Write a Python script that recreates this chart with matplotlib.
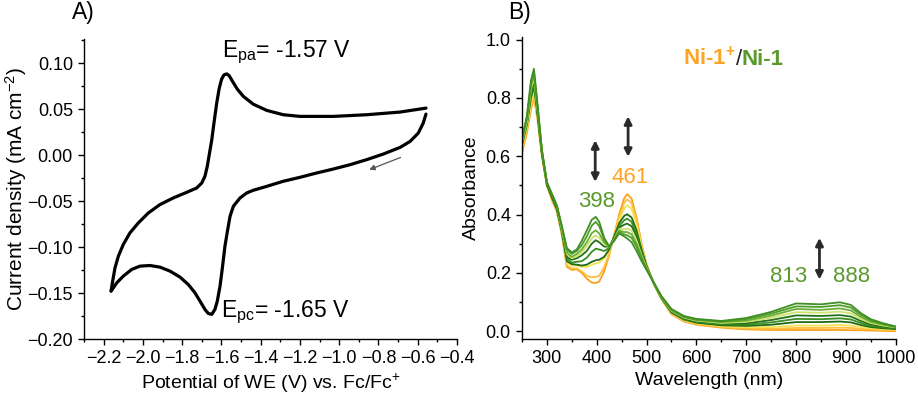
import matplotlib
matplotlib.use("Agg")
import matplotlib.pyplot as plt
from matplotlib.ticker import MultipleLocator, FuncFormatter

plt.rcParams['font.family'] = ['Liberation Sans', 'DejaVu Sans']
plt.rcParams['mathtext.fontset'] = 'custom'
plt.rcParams['mathtext.rm'] = 'Liberation Sans'
plt.rcParams['mathtext.it'] = 'Liberation Sans:italic'
plt.rcParams['mathtext.bf'] = 'Liberation Sans:bold'

# ---- A) cyclic voltammogram (read off the picture) ----
# cathodic sweep, -0.56 V -> -2.16 V
cv_fwd_v = [-0.558, -0.572, -0.597, -0.639, -0.690, -0.775, -0.860, -0.945, -1.030, -1.115,
            -1.200, -1.285, -1.369, -1.403, -1.438, -1.471, -1.505, -1.539, -1.556, -1.568,
            -1.582, -1.594, -1.607, -1.621, -1.633, -1.649, -1.667, -1.684, -1.709, -1.735,
            -1.769, -1.811, -1.862, -1.913, -1.964, -2.015, -2.057, -2.100, -2.133, -2.162]
cv_fwd_j = [0.0447, 0.0349, 0.0241, 0.0150, 0.0085, 0.0013, -0.0048, -0.0103, -0.0150, -0.0193,
            -0.0240, -0.0283, -0.0338, -0.0359, -0.0381, -0.0410, -0.0464, -0.0554, -0.0663, -0.0808,
            -0.0988, -0.1205, -0.1422, -0.1585, -0.1675, -0.1729, -0.1719, -0.1675, -0.1585, -0.1494,
            -0.1404, -0.1324, -0.1259, -0.1216, -0.1198, -0.1205, -0.1241, -0.1314, -0.1386, -0.1476]
# anodic sweep back, -2.16 V -> -0.56 V
cv_rev_v = [-2.162, -2.154, -2.142, -2.125, -2.100, -2.066, -2.023, -1.972, -1.913, -1.845,
            -1.777, -1.726, -1.700, -1.684, -1.672, -1.662, -1.649, -1.638, -1.624, -1.611,
            -1.599, -1.587, -1.573, -1.560, -1.543, -1.519, -1.488, -1.438, -1.369, -1.285,
            -1.200, -1.030, -0.860, -0.690, -0.558]
cv_rev_j = [-0.1476, -0.1368, -0.1223, -0.1097, -0.0970, -0.0844, -0.0735, -0.0627, -0.0536, -0.0464,
            -0.0403, -0.0356, -0.0301, -0.0229, -0.0121, 0.0006, 0.0169, 0.0349, 0.0566, 0.0729,
            0.0826, 0.0873, 0.0884, 0.0863, 0.0801, 0.0718, 0.0639, 0.0555, 0.0487, 0.0440,
            0.0422, 0.0422, 0.0440, 0.0469, 0.0512]

# ---- B) spectroelectrochemistry, Ni-1+ (orange) -> Ni-1 (green) ----
wavelength = [250, 260, 268, 274, 280, 290, 300, 310, 320, 330, 340, 350, 360, 370, 380,
              390, 398, 405, 415, 425, 435, 445, 455, 461, 470, 480, 490, 500, 515, 530,
              550, 575, 600, 650, 700, 750, 800, 850, 888, 910, 930, 950, 975, 1000]

abs_0 = [0.61, 0.68, 0.76, 0.80, 0.74, 0.60, 0.50, 0.45, 0.41, 0.33, 0.22, 0.21, 0.212, 0.20, 0.18,
         0.167, 0.165, 0.17, 0.205, 0.26, 0.33, 0.40, 0.455, 0.470, 0.455, 0.39, 0.30, 0.23, 0.16, 0.11,
         0.058, 0.033, 0.022, 0.012, 0.006, 0.004, 0.004, 0.004, 0.004, 0.003, 0.003, 0.002, 0.001, 0.0]
abs_1 = [0.62, 0.69, 0.77, 0.81, 0.75, 0.60, 0.50, 0.45, 0.41, 0.335, 0.225, 0.215, 0.215, 0.205, 0.19,
         0.185, 0.186, 0.19, 0.22, 0.265, 0.33, 0.39, 0.44, 0.452, 0.44, 0.38, 0.295, 0.228, 0.16, 0.111,
         0.06, 0.035, 0.024, 0.014, 0.009, 0.008, 0.011, 0.011, 0.012, 0.011, 0.008, 0.006, 0.004, 0.003]
abs_2 = [0.63, 0.70, 0.78, 0.82, 0.75, 0.61, 0.50, 0.46, 0.42, 0.34, 0.235, 0.225, 0.225, 0.22, 0.22,
         0.228, 0.232, 0.235, 0.25, 0.275, 0.325, 0.38, 0.42, 0.432, 0.42, 0.365, 0.29, 0.226, 0.161, 0.112,
         0.062, 0.038, 0.027, 0.017, 0.013, 0.014, 0.019, 0.019, 0.021, 0.019, 0.014, 0.01, 0.007, 0.005]
abs_3 = [0.64, 0.71, 0.80, 0.84, 0.76, 0.61, 0.50, 0.46, 0.42, 0.34, 0.24, 0.23, 0.228, 0.225, 0.228,
         0.238, 0.243, 0.245, 0.255, 0.28, 0.325, 0.37, 0.395, 0.401, 0.39, 0.345, 0.28, 0.224, 0.162, 0.113,
         0.064, 0.04, 0.029, 0.02, 0.018, 0.022, 0.031, 0.031, 0.033, 0.03, 0.021, 0.014, 0.01, 0.007]
abs_4 = [0.64, 0.71, 0.81, 0.85, 0.77, 0.61, 0.51, 0.46, 0.42, 0.345, 0.25, 0.235, 0.238, 0.24, 0.252,
         0.272, 0.283, 0.28, 0.275, 0.285, 0.32, 0.36, 0.38, 0.386, 0.375, 0.335, 0.275, 0.222, 0.162, 0.114,
         0.066, 0.042, 0.032, 0.023, 0.022, 0.03, 0.042, 0.041, 0.044, 0.04, 0.028, 0.018, 0.013, 0.009]
abs_5 = [0.65, 0.72, 0.82, 0.86, 0.77, 0.61, 0.51, 0.46, 0.42, 0.35, 0.255, 0.245, 0.25, 0.26, 0.275,
         0.30, 0.312, 0.305, 0.29, 0.29, 0.32, 0.355, 0.365, 0.369, 0.36, 0.325, 0.27, 0.22, 0.163, 0.115,
         0.068, 0.044, 0.034, 0.026, 0.027, 0.038, 0.054, 0.052, 0.055, 0.05, 0.035, 0.023, 0.016, 0.011]
abs_6 = [0.65, 0.72, 0.83, 0.87, 0.78, 0.62, 0.51, 0.47, 0.43, 0.35, 0.265, 0.25, 0.258, 0.27, 0.292,
         0.318, 0.329, 0.32, 0.30, 0.29, 0.315, 0.35, 0.35, 0.352, 0.345, 0.31, 0.26, 0.218, 0.163, 0.116,
         0.07, 0.046, 0.036, 0.028, 0.032, 0.046, 0.065, 0.063, 0.067, 0.061, 0.042, 0.028, 0.019, 0.013]
abs_7 = [0.66, 0.73, 0.84, 0.88, 0.79, 0.62, 0.51, 0.47, 0.43, 0.355, 0.27, 0.255, 0.265, 0.28, 0.305,
         0.336, 0.346, 0.335, 0.305, 0.29, 0.315, 0.345, 0.34, 0.340, 0.332, 0.30, 0.255, 0.215, 0.164, 0.117,
         0.072, 0.048, 0.038, 0.031, 0.036, 0.053, 0.076, 0.073, 0.078, 0.071, 0.049, 0.032, 0.022, 0.014]
abs_8 = [0.66, 0.73, 0.85, 0.89, 0.79, 0.62, 0.51, 0.47, 0.43, 0.36, 0.28, 0.265, 0.275, 0.295, 0.325,
         0.362, 0.375, 0.36, 0.315, 0.29, 0.31, 0.34, 0.332, 0.329, 0.32, 0.29, 0.25, 0.212, 0.165, 0.118,
         0.074, 0.05, 0.04, 0.033, 0.041, 0.06, 0.085, 0.083, 0.089, 0.081, 0.056, 0.037, 0.025, 0.015]
abs_9 = [0.66, 0.74, 0.86, 0.90, 0.80, 0.62, 0.51, 0.47, 0.43, 0.36, 0.285, 0.27, 0.28, 0.31, 0.345,
         0.382, 0.392, 0.375, 0.32, 0.29, 0.31, 0.335, 0.325, 0.318, 0.305, 0.275, 0.24, 0.21, 0.165, 0.12,
         0.076, 0.052, 0.042, 0.035, 0.045, 0.066, 0.095, 0.092, 0.099, 0.09, 0.062, 0.041, 0.027, 0.016]

spectra = [abs_0, abs_1, abs_2, abs_3, abs_4, abs_5, abs_6, abs_7, abs_8, abs_9]
spec_colors = ['#F9A11B', '#FFBE3C', '#F3E254', '#1E6B14', '#3A8E22', '#23721A',
               '#CFE36A', '#6AAE35', '#4F9C2A', '#3F8F24']

ORANGE = '#FCA428'
GREEN = '#5A9A2C'
MINUS = '\u2212'

fig = plt.figure(figsize=(9.18, 3.99), dpi=100)
axA = fig.add_axes([0.0915, 0.1496, 0.4063, 0.7520])
axB = fig.add_axes([0.5686, 0.1496, 0.4071, 0.7584])

for ax in (axA, axB):
    for s in ('top', 'right'):
        ax.spines[s].set_visible(False)
    for s in ('left', 'bottom'):
        ax.spines[s].set_linewidth(1.0)
    ax.tick_params(which='major', direction='out', length=4, width=1, labelsize=13, pad=4)
    ax.tick_params(which='minor', direction='out', length=2.5, width=1)

# ---- panel A ----
axA.plot(cv_fwd_v, cv_fwd_j, color='black', lw=2.3, solid_capstyle='round')
axA.plot(cv_rev_v, cv_rev_j, color='black', lw=2.3, solid_capstyle='round')
axA.annotate('', xy=(-0.847, -0.0157), xytext=(-0.687, -0.0024),
             arrowprops=dict(arrowstyle='-|>', color='#555555', lw=0.9, mutation_scale=8,
                             shrinkA=0, shrinkB=0))
axA.text(-1.599, 0.112, r'E$_{\rm pa}$= -1.57 V', fontsize=16.5, ha='left', va='center')
axA.text(-1.603, -0.171, r'E$_{\rm pc}$= -1.65 V', fontsize=16.5, ha='left', va='center')

axA.set_xlim(-2.3, -0.4)
axA.set_ylim(-0.2, 0.126)
axA.xaxis.set_major_locator(MultipleLocator(0.2))
axA.xaxis.set_minor_locator(MultipleLocator(0.1))
axA.yaxis.set_major_locator(MultipleLocator(0.05))
axA.yaxis.set_minor_locator(MultipleLocator(0.025))
axA.xaxis.set_major_formatter(FuncFormatter(lambda v, p: f'{v:.1f}'.replace('-', MINUS)))
axA.yaxis.set_major_formatter(FuncFormatter(
    lambda v, p: '0.00' if abs(v) < 1e-9 else f'{v:.2f}'.replace('-', MINUS)))
axA.set_xlabel(r'Potential of WE (V) vs. Fc/Fc$^{+}$', fontsize=14, labelpad=3)
axA.set_ylabel(r'Current density (mA cm$^{-2}$)', fontsize=15)
axA.yaxis.set_label_coords(-0.148, 0.5)
fig.text(0.0784, 0.968, 'A)', fontsize=16.5, ha='left', va='center')

# ---- panel B ----
for sp, c in zip(spectra, spec_colors):
    axB.plot(wavelength, sp, color=c, lw=1.3)

arrow_kw = dict(arrowstyle='<|-|>', color='#2a2a2a', lw=2.0, mutation_scale=11,
                shrinkA=0, shrinkB=0)
axB.annotate('', xy=(397, 0.512), xytext=(397, 0.655), arrowprops=arrow_kw)
axB.annotate('', xy=(463, 0.598), xytext=(463, 0.737), arrowprops=arrow_kw)
axB.annotate('', xy=(847, 0.177), xytext=(847, 0.320), arrowprops=arrow_kw)

axB.text(399, 0.446, '398', color=GREEN, fontsize=16, ha='center', va='center')
axB.text(468, 0.526, '461', color=ORANGE, fontsize=16, ha='center', va='center')
axB.text(786, 0.186, '813', color=GREEN, fontsize=16, ha='center', va='center')
axB.text(912, 0.186, '888', color=GREEN, fontsize=16, ha='center', va='center')

t1 = axB.text(573, 0.935, r'Ni-1$^{\mathbf{+}}$', color=ORANGE, fontsize=16,
              fontweight='bold', ha='left', va='center')
t2 = axB.annotate('/', xy=(1, 0), xycoords=t1, color='#222222', fontsize=16,
                  ha='left', va='bottom')
axB.annotate('Ni-1', xy=(1, 0), xycoords=t2, color=GREEN, fontsize=16,
             fontweight='bold', ha='left', va='bottom')

axB.set_xlim(250, 1000)
axB.set_ylim(-0.028, 1.01)
axB.xaxis.set_major_locator(MultipleLocator(100))
axB.xaxis.set_minor_locator(MultipleLocator(50))
axB.yaxis.set_major_locator(MultipleLocator(0.2))
axB.yaxis.set_minor_locator(MultipleLocator(0.1))
axB.yaxis.set_major_formatter(FuncFormatter(lambda v, p: f'{abs(v):.1f}' if abs(v) < 1e-9 else f'{v:.1f}'))
axB.set_xlabel('Wavelength (nm)', fontsize=14, labelpad=3)
axB.set_ylabel('Absorbance', fontsize=14)
axB.yaxis.set_label_coords(-0.113, 0.5)
fig.text(0.553, 0.968, 'B)', fontsize=16.5, ha='left', va='center')

fig.savefig('out.png', dpi=100)
